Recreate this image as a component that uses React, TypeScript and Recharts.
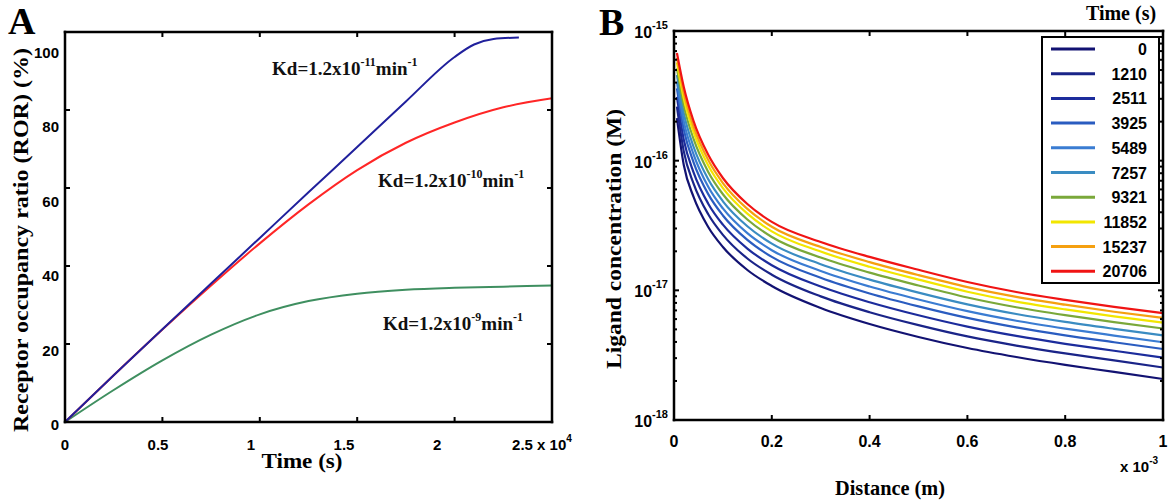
import React from 'react';
import { LineChart, Line, XAxis, YAxis, ReferenceDot } from 'recharts';

// Panel A: receptor occupancy ratio (%) vs time (x axis in units of 1e4 s)
const timeKd11 = [0, 0.25, 0.5, 0.75, 1.0, 1.25, 1.5, 1.75, 2.0, 2.1, 2.2, 2.33];
const rorKd11 = [0, 12, 23.8, 35.5, 47.2, 58.9, 70.5, 82.2, 93.6, 96.8, 98.2, 98.6];
const timeKd10 = [0, 0.25, 0.5, 0.75, 1.0, 1.25, 1.5, 1.75, 2.0, 2.25, 2.5];
const rorKd10 = [0, 12, 23.7, 35, 45.8, 55.8, 64.6, 71.6, 76.8, 80.7, 83];
const timeKd9 = [0, 0.25, 0.5, 0.75, 1.0, 1.25, 1.5, 1.75, 2.0, 2.25, 2.5];
const rorKd9 = [0, 8.2, 15.8, 22.4, 27.6, 31.0, 32.9, 33.9, 34.4, 34.7, 35.0];
const timeTicks = [0, 0.5, 1, 1.5, 2, 2.5];
const rorTicks = [0, 20, 40, 60, 80, 100];

// Panel B: ligand concentration (M) vs distance (x axis in units of 1e-3 m)
const distance = [0.006, 0.02, 0.04, 0.07, 0.1, 0.15, 0.2, 0.3, 0.4, 0.5, 0.6, 0.7, 0.8, 0.9, 1.0];
const conc0 = [213e-18, 92.6e-18, 52.5e-18, 30.8e-18, 21.6e-18, 14.35e-18, 10.8e-18, 7.31e-18, 5.5e-18, 4.37e-18, 3.59e-18, 3.06e-18, 2.66e-18, 2.35e-18, 2.07e-18];
const conc1210 = [261e-18, 118e-18, 66.6e-18, 38.6e-18, 26.8e-18, 17.6e-18, 13.2e-18, 8.98e-18, 6.78e-18, 5.39e-18, 4.41e-18, 3.75e-18, 3.26e-18, 2.88e-18, 2.54e-18];
const conc2511 = [310e-18, 145e-18, 81.3e-18, 46.6e-18, 32.1e-18, 21.0e-18, 15.6e-18, 10.7e-18, 8.09e-18, 6.42e-18, 5.25e-18, 4.45e-18, 3.87e-18, 3.42e-18, 3.03e-18];
const conc3925 = [361e-18, 174e-18, 97.1e-18, 55.2e-18, 37.8e-18, 24.5e-18, 18.1e-18, 12.5e-18, 9.46e-18, 7.52e-18, 6.13e-18, 5.18e-18, 4.5e-18, 3.98e-18, 3.53e-18];
const conc5489 = [406e-18, 201e-18, 112e-18, 63.0e-18, 42.8e-18, 27.6e-18, 20.4e-18, 14.1e-18, 10.7e-18, 8.5e-18, 6.91e-18, 5.83e-18, 5.07e-18, 4.48e-18, 3.98e-18];
const conc7257 = [458e-18, 232e-18, 128e-18, 71.8e-18, 48.6e-18, 31.2e-18, 22.9e-18, 15.9e-18, 12.1e-18, 9.61e-18, 7.8e-18, 6.57e-18, 5.71e-18, 5.05e-18, 4.5e-18];
const conc9321 = [516e-18, 267e-18, 147e-18, 81.9e-18, 55.1e-18, 35.2e-18, 25.8e-18, 17.9e-18, 13.7e-18, 10.9e-18, 8.8e-18, 7.4e-18, 6.43e-18, 5.68e-18, 5.08e-18];
const conc11852 = [571e-18, 302e-18, 166e-18, 91.7e-18, 61.4e-18, 39.0e-18, 28.5e-18, 19.9e-18, 15.2e-18, 12.1e-18, 9.76e-18, 8.19e-18, 7.12e-18, 6.29e-18, 5.63e-18];
const conc15237 = [621e-18, 334e-18, 183e-18, 101e-18, 67.2e-18, 42.5e-18, 30.9e-18, 21.6e-18, 16.5e-18, 13.1e-18, 10.6e-18, 8.91e-18, 7.75e-18, 6.84e-18, 6.13e-18];
const conc20706 = [677e-18, 370e-18, 202e-18, 111e-18, 73.5e-18, 46.3e-18, 33.7e-18, 23.6e-18, 18.1e-18, 14.4e-18, 11.6e-18, 9.71e-18, 8.44e-18, 7.45e-18, 6.68e-18];
const releaseTimes = ['0', '1210', '2511', '3925', '5489', '7257', '9321', '11852', '15237', '20706'];
const lineColors = ['#121272', '#1a2488', '#1c2c9c', '#2a5cc0', '#3a7cd2', '#3a8cc2', '#7aa83a', '#f2e600', '#f5a010', '#f01414'];
const distanceTicks = [0, 0.2, 0.4, 0.6, 0.8, 1];
const decadeTicks = [1e-18, 1e-17, 1e-16, 1e-15];

const concSeries = [conc0, conc1210, conc2511, conc3925, conc5489, conc7257, conc9321, conc11852, conc15237, conc20706];
const minorTicks = [1e-18, 1e-17, 1e-16].flatMap(d => [2, 3, 4, 5, 6, 7, 8, 9].map(m => m * d));
const concTicks = [...decadeTicks, ...minorTicks].sort((a, b) => a - b);

const rowsB = distance.map((d, i) => {
  const row: any = { d };
  concSeries.forEach((s, k) => { row['s' + k] = s[i]; });
  return row;
});
const toRows = (ts: number[], vs: number[]) => ts.map((t, i) => ({ t, r: vs[i] }));

const serif = '"Liberation Serif", "Times New Roman", serif';
const sans = '"Liberation Sans", Arial, sans-serif';

const isDecade = (v: number) => decadeTicks.some(m => Math.abs(v / m - 1) < 1e-6);

// plot boxes (page pixels) that the chart margins/axis sizes below produce
const boxA = { x: 65, y: 32, w: 487, h: 390 };
const boxB = { x: 674, y: 31, w: 489, h: 389 };

// ---- tick labels ----
const TimeTick = ({ x, y, payload }: any) => {
  const v = payload.value;
  const lx = 65 + (x - 65) * 0.955;
  return v === 2.5 ? (
    <text x={lx - 18} y={y + 28} fontFamily={sans} fontWeight="bold" fontSize={15}>
      2.5 x 10<tspan dy={-8} fontSize={10}>4</tspan>
    </text>
  ) : (
    <text x={lx} y={y + 28} textAnchor="middle" fontFamily={sans} fontWeight="bold" fontSize={15}>{v}</text>
  );
};

const RorTick = ({ x, payload }: any) => {
  const v = payload.value;
  return (
    <text x={x - 6} y={425 - v * 3.72 + 5} textAnchor="end" fontFamily={sans} fontWeight="bold" fontSize={15}>{v}</text>
  );
};

const DistTick = ({ x, y, payload }: any) => (
  <text x={x} y={y + 27} textAnchor="middle" fontFamily={sans} fontWeight="bold" fontSize={16}>{payload.value}</text>
);

const ConcTick = ({ x, y, payload }: any) => {
  const v = payload.value;
  if (!isDecade(v)) return <g />;
  return (
    <text x={x - 6} y={y + 7} textAnchor="end" fontFamily={sans} fontWeight="bold" fontSize={16}>
      10<tspan dy={-9} fontSize={11}>{Math.round(Math.log10(v))}</tspan>
    </text>
  );
};

// ---- MATLAB-style box with inward ticks ----
const Frame = ({ box, xFrac, yTicks }: { box: any; xFrac: number[]; yTicks: { f: number; len: number }[] }) => {
  const { x, y, w, h } = box;
  const t = 2.5;
  return (
    <g fill="#000">
      <rect x={x - t / 2} y={y - t / 2} width={w + t} height={t} />
      <rect x={x - t / 2} y={y + h - t / 2} width={w + t} height={t} />
      <rect x={x - t / 2} y={y - t / 2} width={t} height={h + t} />
      <rect x={x + w - t / 2} y={y - t / 2} width={t} height={h + t} />
      {xFrac.map((f, i) => (
        <g key={'x' + i}>
          <rect x={x + w * f - 1} y={y + h - 5} width={2} height={5} />
          <rect x={x + w * f - 1} y={y} width={2} height={5} />
        </g>
      ))}
      {yTicks.map(({ f, len }, i) => (
        <g key={'y' + i}>
          <rect x={x} y={y + h * f - 1} width={len} height={2} />
          <rect x={x + w - len} y={y + h * f - 1} width={len} height={2} />
        </g>
      ))}
    </g>
  );
};

const kdLabel = (exp: string) => (p: any) => (
  <text x={p.cx} y={p.cy} fontFamily={serif} fontWeight="bold" fontSize={19} fill="#111">
    Kd=1.2x10<tspan dy={-9} fontSize={12}>{exp}</tspan>
    <tspan dy={9}>min</tspan>
    <tspan dy={-9} fontSize={12}>-1</tspan>
  </text>
);

const PanelA = () => (
  <LineChart width={590} height={504} margin={{ top: 32, right: 38, bottom: 0, left: 0 }}>
    <XAxis xAxisId="bottom" dataKey="t" type="number" domain={[0, 2.5]} ticks={timeTicks} interval={0}
      height={82} tickSize={0} tickMargin={0} tickLine={false} axisLine={false} tick={<TimeTick />} />
    <YAxis yAxisId="left" type="number" domain={[0, 100]} ticks={rorTicks} interval={0}
      width={65} tickSize={0} tickMargin={0} tickLine={false} axisLine={false} tick={<RorTick />} />
    <Line xAxisId="bottom" yAxisId="left" data={toRows(timeKd9, rorKd9)} dataKey="r" type="monotone"
      stroke="#3f8f60" strokeWidth={2} dot={false} isAnimationActive={false} />
    <Line xAxisId="bottom" yAxisId="left" data={toRows(timeKd10, rorKd10)} dataKey="r" type="monotone"
      stroke="#ff2626" strokeWidth={2} dot={false} isAnimationActive={false} />
    <Line xAxisId="bottom" yAxisId="left" data={toRows(timeKd11, rorKd11)} dataKey="r" type="monotone"
      stroke="#20209c" strokeWidth={2} dot={false} isAnimationActive={false} />
    <ReferenceDot xAxisId="bottom" yAxisId="left" x={1.063} y={89} r={0} shape={kdLabel('-11')} />
    <ReferenceDot xAxisId="bottom" yAxisId="left" x={1.607} y={60.3} r={0} shape={kdLabel('-10')} />
    <ReferenceDot xAxisId="bottom" yAxisId="left" x={1.632} y={23.6} r={0} shape={kdLabel('-9')} />
  </LineChart>
);

const PanelB = () => (
  <LineChart width={585} height={504} data={rowsB} margin={{ top: 31, right: 12, bottom: 0, left: 0 }}>
    <XAxis xAxisId="bottom" dataKey="d" type="number" domain={[0, 1]} ticks={distanceTicks} interval={0}
      height={84} tickSize={0} tickMargin={0} tickLine={false} axisLine={false} tick={<DistTick />} />
    <YAxis yAxisId="left" type="number" scale="log" domain={[1e-18, 1e-15]} ticks={concTicks} interval={0} allowDataOverflow
      width={84} tickSize={0} tickMargin={0} tickLine={false} axisLine={false} tick={<ConcTick />} />
    {concSeries.map((_, k) => (
      <Line key={k} xAxisId="bottom" yAxisId="left" dataKey={'s' + k} type="monotone"
        stroke={lineColors[k]} strokeWidth={2.2} dot={false} isAnimationActive={false} />
    ))}
  </LineChart>
);

export default function App() {
  return (
    <div style={{ position: 'absolute', left: 0, top: 0, width: 1175, height: 504, background: '#fff' }}>
      <div style={{ position: 'absolute', left: 0, top: 0 }}><PanelA /></div>
      <div style={{ position: 'absolute', left: 590, top: 0 }}><PanelB /></div>
      <svg width={1175} height={504} style={{ position: 'absolute', left: 0, top: 0, pointerEvents: 'none' }}>
        <Frame box={boxA} xFrac={timeTicks.map(v => v / 2.5)}
          yTicks={rorTicks.map(r => ({ f: 1 - r / 100, len: 5 }))} />
        <Frame box={boxB} xFrac={distanceTicks}
          yTicks={concTicks.map(v => ({ f: (-15 - Math.log10(v)) / 3, len: isDecade(v) ? 5 : 3 }))} />
        <text x={8} y={34} fontFamily={serif} fontWeight="bold" fontSize={38}>A</text>
        <text x={599} y={35} fontFamily={serif} fontWeight="bold" fontSize={38}>B</text>
        <text transform="rotate(-90)" x={-240} y={28} textAnchor="middle" fontFamily={serif} fontWeight="bold"
          fontSize={21} textLength={384} lengthAdjust="spacingAndGlyphs">Receptor occupancy ratio (ROR) (%)</text>
        <text x={302} y={468} textAnchor="middle" fontFamily={serif} fontWeight="bold" fontSize={21}
          textLength={81} lengthAdjust="spacingAndGlyphs">Time (s)</text>
        <text transform="rotate(-90)" x={-239} y={621} textAnchor="middle" fontFamily={serif} fontWeight="bold"
          fontSize={21} textLength={260} lengthAdjust="spacingAndGlyphs">Ligand concentration (M)</text>
        <text x={890} y={495} textAnchor="middle" fontFamily={serif} fontWeight="bold" fontSize={21}
          textLength={110} lengthAdjust="spacingAndGlyphs">Distance (m)</text>
        <text x={1120} y={472} fontFamily={sans} fontWeight="bold" fontSize={15}>
          x 10<tspan dy={-8} fontSize={10}>-3</tspan>
        </text>
        <text x={1121} y={20} textAnchor="middle" fontFamily={serif} fontWeight="bold" fontSize={20}>Time (s)</text>
        <rect x={1042} y={37} width={117} height={246} fill="#fff" stroke="#000" strokeWidth={2} />
        {releaseTimes.map((t, i) => (
          <g key={t}>
            <line x1={1051} x2={1095} y1={49 + i * 24.7} y2={49 + i * 24.7} stroke={lineColors[i]} strokeWidth={3} />
            <text x={1147} y={55 + i * 24.7} textAnchor="end" fontFamily={sans} fontWeight="bold" fontSize={16}>{t}</text>
          </g>
        ))}
      </svg>
    </div>
  );
}
